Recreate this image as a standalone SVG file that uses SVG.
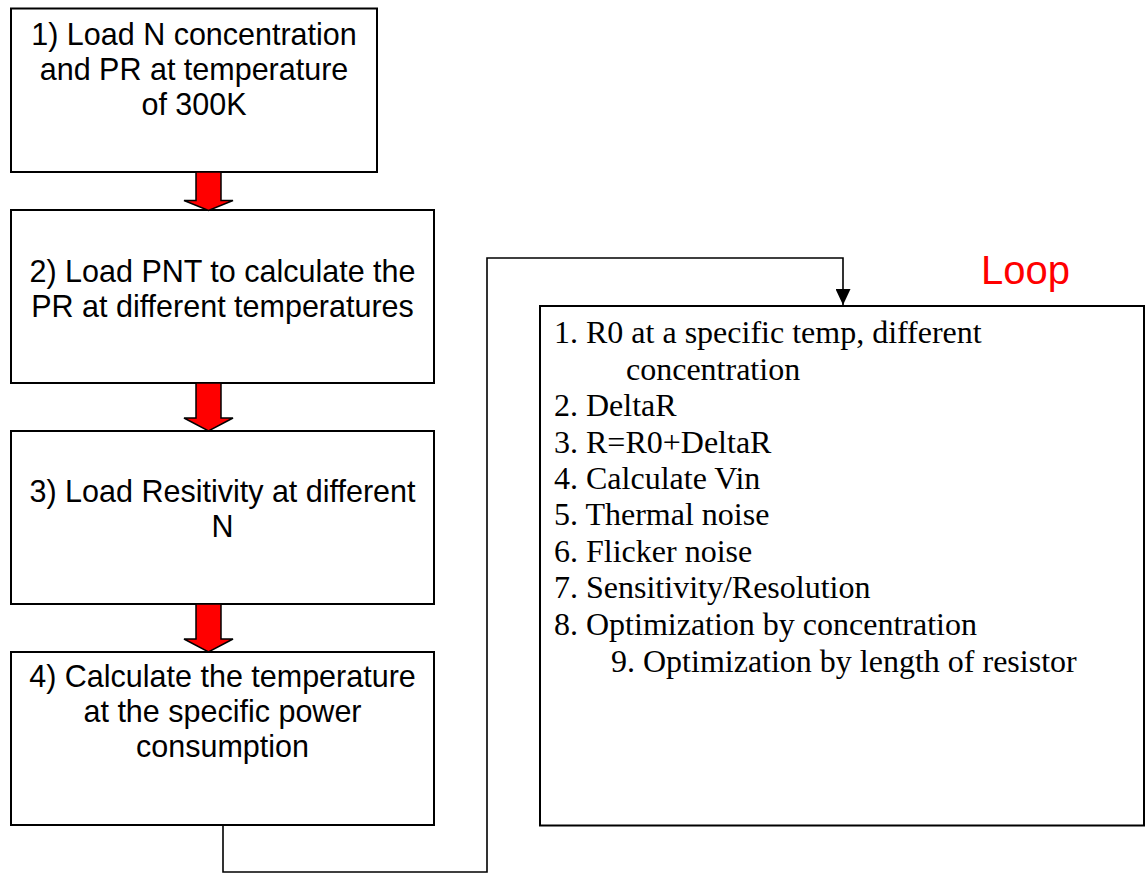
<svg xmlns="http://www.w3.org/2000/svg" width="1145" height="873" viewBox="0 0 1145 873">
  <defs>
    <style>
      .box { fill: #ffffff; stroke: #000000; stroke-width: 2; }
      .step { font-family: "Liberation Sans", Arial, sans-serif; font-size: 30.5px; fill: #000000; text-anchor: middle; }
      .item { font-family: "Liberation Serif", "Times New Roman", serif; font-size: 32px; fill: #000000; }
      .flow { fill: #ff0000; stroke: #000000; stroke-width: 1.5; stroke-linejoin: miter; }
      .wire { fill: none; stroke: #000000; stroke-width: 1.6; }
      .loop { font-family: "Liberation Sans", Arial, sans-serif; font-size: 40px; fill: #ff0000; }
    </style>
    <marker id="head" viewBox="0 0 16 15" refX="16" refY="7.5" markerWidth="16" markerHeight="15" markerUnits="userSpaceOnUse" orient="auto">
      <path d="M0,0 L16,7.5 L0,15 Z" fill="#000000"/>
    </marker>
  </defs>

  <rect width="1145" height="873" fill="#ffffff"/>

  <!-- step 1 -->
  <g id="step1">
    <rect class="box" x="11" y="8.5" width="366" height="163.5"/>
    <text class="step" x="194" y="45">1) Load N concentration</text>
    <text class="step" x="194" y="80">and PR at temperature</text>
    <text class="step" x="194" y="115">of 300K</text>
  </g>

  <!-- step 2 -->
  <g id="step2">
    <rect class="box" x="11" y="210" width="423" height="173"/>
    <text class="step" x="222.5" y="282">2) Load PNT to calculate the</text>
    <text class="step" x="222.5" y="317">PR at different temperatures</text>
  </g>

  <!-- step 3 -->
  <g id="step3">
    <rect class="box" x="11" y="431" width="423" height="173"/>
    <text class="step" x="222.5" y="502">3) Load Resitivity at different</text>
    <text class="step" x="222.5" y="537">N</text>
  </g>

  <!-- step 4 -->
  <g id="step4">
    <rect class="box" x="11" y="652" width="423" height="173"/>
    <text class="step" x="222.5" y="687">4) Calculate the temperature</text>
    <text class="step" x="222.5" y="722">at the specific power</text>
    <text class="step" x="222.5" y="757">consumption</text>
  </g>

  <!-- loop body -->
  <g id="loop">
    <rect class="box" x="540" y="306" width="604" height="519.5"/>
    <text class="item" x="554" y="343">1. R0 at a specific temp, different</text>
    <text class="item" x="626" y="380">concentration</text>
    <text class="item" x="554" y="416">2. DeltaR</text>
    <text class="item" x="554" y="453">3. R=R0+DeltaR</text>
    <text class="item" x="554" y="489">4. Calculate Vin</text>
    <text class="item" x="554" y="525">5. Thermal noise</text>
    <text class="item" x="554" y="562">6. Flicker noise</text>
    <text class="item" x="554" y="598">7. Sensitivity/Resolution</text>
    <text class="item" x="554" y="635">8. Optimization by concentration</text>
    <text class="item" x="611" y="672">9. Optimization by length of resistor</text>
  </g>

  <g id="loop-label">
    <text class="loop" x="981" y="284">Loop</text>
  </g>

  <!-- connectors -->
  <g id="connectors">
    <path class="flow" d="M196,172 L221,172 L221,200.5 L233,200.5 L208.5,210.5 L184,200.5 L196,200.5 Z"/>
    <path class="flow" d="M196,383 L221,383 L221,418 L233,418 L208.5,431 L184,418 L196,418 Z"/>
    <path class="flow" d="M196,604 L221,604 L221,639 L233,639 L208.5,652 L184,639 L196,639 Z"/>
    <path class="wire" d="M223,825 L223,872 L487,872 L487,258 L843,258 L843,305" marker-end="url(#head)"/>
  </g>
</svg>
